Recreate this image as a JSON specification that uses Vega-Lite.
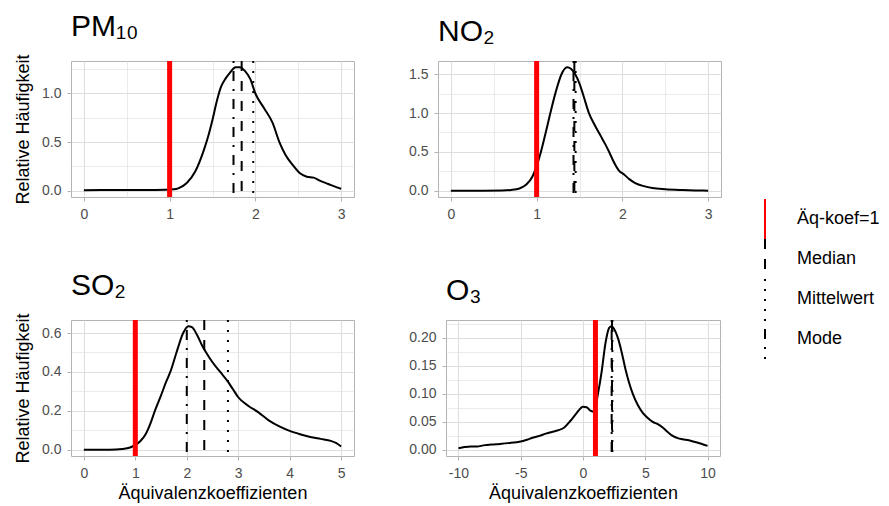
{
  "$schema": "https://vega.github.io/schema/vega-lite/v6.json",
  "background": "white",
  "padding": {"left": 14, "top": 11, "right": 5, "bottom": 5},
  "config": {
    "font": "Liberation Sans",
    "view": {"stroke": "#b3b3b3", "strokeWidth": 1},
    "axis": {"domain": false, "tickColor": "#b3b3b3", "tickSize": 4, "tickWidth": 1, "labelColor": "#4d4d4d", "labelFontSize": 14, "labelPadding": 6, "gridColor": "#dedede", "titleFontSize": 18, "titleFontWeight": "normal", "titleColor": "black", "titlePadding": 9, "labelFont": "Liberation Sans", "titleFont": "Liberation Sans"},
    "title": {"fontSize": 30, "fontWeight": "normal", "anchor": "start", "frame": "group", "baseline": "alphabetic", "offset": 12, "font": "Liberation Sans", "color": "black"},
    "legend": {"orient": "none", "legendX": 673, "legendY": 138, "padding": 0, "symbolType": "M0,-1L0,1", "symbolSize": 1600, "symbolStrokeWidth": 2, "labelFontSize": 18, "labelColor": "black", "labelOffset": 11, "rowPadding": 0, "clipHeight": 40, "labelFont": "Liberation Sans"}
  },
  "datasets": {
    "density": [
      {"p": "PM10", "x": 0, "y": 0.005}, {"p": "PM10", "x": 0.2, "y": 0.007}, {"p": "PM10", "x": 0.4, "y": 0.008}, {"p": "PM10", "x": 0.6, "y": 0.007}, {"p": "PM10", "x": 0.8, "y": 0.008}, {"p": "PM10", "x": 0.95, "y": 0.01}, {"p": "PM10", "x": 1.05, "y": 0.015}, {"p": "PM10", "x": 1.1, "y": 0.025}, {"p": "PM10", "x": 1.2, "y": 0.08}, {"p": "PM10", "x": 1.3, "y": 0.2}, {"p": "PM10", "x": 1.4, "y": 0.42}, {"p": "PM10", "x": 1.45, "y": 0.56}, {"p": "PM10", "x": 1.5, "y": 0.73}, {"p": "PM10", "x": 1.55, "y": 0.92}, {"p": "PM10", "x": 1.6, "y": 1.07}, {"p": "PM10", "x": 1.65, "y": 1.15}, {"p": "PM10", "x": 1.7, "y": 1.21}, {"p": "PM10", "x": 1.77, "y": 1.27}, {"p": "PM10", "x": 1.82, "y": 1.27}, {"p": "PM10", "x": 1.88, "y": 1.23}, {"p": "PM10", "x": 1.94, "y": 1.15}, {"p": "PM10", "x": 2.0, "y": 1.0}, {"p": "PM10", "x": 2.1, "y": 0.85}, {"p": "PM10", "x": 2.2, "y": 0.7}, {"p": "PM10", "x": 2.28, "y": 0.5}, {"p": "PM10", "x": 2.35, "y": 0.37}, {"p": "PM10", "x": 2.44, "y": 0.26}, {"p": "PM10", "x": 2.52, "y": 0.18}, {"p": "PM10", "x": 2.6, "y": 0.145}, {"p": "PM10", "x": 2.68, "y": 0.135}, {"p": "PM10", "x": 2.75, "y": 0.105}, {"p": "PM10", "x": 2.85, "y": 0.07}, {"p": "PM10", "x": 2.95, "y": 0.035}, {"p": "PM10", "x": 3.0, "y": 0.02},
      {"p": "NO2", "x": 0, "y": 0}, {"p": "NO2", "x": 0.3, "y": 0}, {"p": "NO2", "x": 0.6, "y": 0.003}, {"p": "NO2", "x": 0.7, "y": 0.01}, {"p": "NO2", "x": 0.8, "y": 0.03}, {"p": "NO2", "x": 0.88, "y": 0.08}, {"p": "NO2", "x": 0.95, "y": 0.18}, {"p": "NO2", "x": 1.0, "y": 0.32}, {"p": "NO2", "x": 1.05, "y": 0.5}, {"p": "NO2", "x": 1.1, "y": 0.72}, {"p": "NO2", "x": 1.16, "y": 1.0}, {"p": "NO2", "x": 1.22, "y": 1.26}, {"p": "NO2", "x": 1.29, "y": 1.5}, {"p": "NO2", "x": 1.355, "y": 1.59}, {"p": "NO2", "x": 1.4, "y": 1.57}, {"p": "NO2", "x": 1.45, "y": 1.5}, {"p": "NO2", "x": 1.5, "y": 1.38}, {"p": "NO2", "x": 1.55, "y": 1.21}, {"p": "NO2", "x": 1.61, "y": 1.0}, {"p": "NO2", "x": 1.68, "y": 0.84}, {"p": "NO2", "x": 1.75, "y": 0.7}, {"p": "NO2", "x": 1.8, "y": 0.6}, {"p": "NO2", "x": 1.85, "y": 0.49}, {"p": "NO2", "x": 1.9, "y": 0.37}, {"p": "NO2", "x": 1.96, "y": 0.26}, {"p": "NO2", "x": 2.02, "y": 0.21}, {"p": "NO2", "x": 2.08, "y": 0.15}, {"p": "NO2", "x": 2.15, "y": 0.1}, {"p": "NO2", "x": 2.25, "y": 0.06}, {"p": "NO2", "x": 2.35, "y": 0.035}, {"p": "NO2", "x": 2.5, "y": 0.02}, {"p": "NO2", "x": 2.7, "y": 0.01}, {"p": "NO2", "x": 2.85, "y": 0.005}, {"p": "NO2", "x": 3.0, "y": 0.002},
      {"p": "SO2", "x": 0, "y": 0}, {"p": "SO2", "x": 0.5, "y": 0}, {"p": "SO2", "x": 0.75, "y": 0.004}, {"p": "SO2", "x": 0.9, "y": 0.012}, {"p": "SO2", "x": 1.0, "y": 0.025}, {"p": "SO2", "x": 1.1, "y": 0.045}, {"p": "SO2", "x": 1.2, "y": 0.08}, {"p": "SO2", "x": 1.3, "y": 0.14}, {"p": "SO2", "x": 1.38, "y": 0.2}, {"p": "SO2", "x": 1.5, "y": 0.28}, {"p": "SO2", "x": 1.6, "y": 0.35}, {"p": "SO2", "x": 1.68, "y": 0.4}, {"p": "SO2", "x": 1.8, "y": 0.5}, {"p": "SO2", "x": 1.93, "y": 0.6}, {"p": "SO2", "x": 2.03, "y": 0.635}, {"p": "SO2", "x": 2.1, "y": 0.63}, {"p": "SO2", "x": 2.2, "y": 0.59}, {"p": "SO2", "x": 2.3, "y": 0.535}, {"p": "SO2", "x": 2.4, "y": 0.49}, {"p": "SO2", "x": 2.5, "y": 0.45}, {"p": "SO2", "x": 2.65, "y": 0.4}, {"p": "SO2", "x": 2.8, "y": 0.35}, {"p": "SO2", "x": 2.9, "y": 0.31}, {"p": "SO2", "x": 3.0, "y": 0.27}, {"p": "SO2", "x": 3.2, "y": 0.225}, {"p": "SO2", "x": 3.38, "y": 0.195}, {"p": "SO2", "x": 3.6, "y": 0.15}, {"p": "SO2", "x": 3.8, "y": 0.12}, {"p": "SO2", "x": 4.0, "y": 0.097}, {"p": "SO2", "x": 4.2, "y": 0.08}, {"p": "SO2", "x": 4.4, "y": 0.066}, {"p": "SO2", "x": 4.6, "y": 0.056}, {"p": "SO2", "x": 4.8, "y": 0.046}, {"p": "SO2", "x": 4.9, "y": 0.035}, {"p": "SO2", "x": 5.0, "y": 0.017},
      {"p": "O3", "x": -10, "y": 0.003}, {"p": "O3", "x": -9.5, "y": 0.005}, {"p": "O3", "x": -9, "y": 0.006}, {"p": "O3", "x": -8.5, "y": 0.006}, {"p": "O3", "x": -8, "y": 0.008}, {"p": "O3", "x": -7, "y": 0.01}, {"p": "O3", "x": -6, "y": 0.012}, {"p": "O3", "x": -5, "y": 0.015}, {"p": "O3", "x": -4.5, "y": 0.018}, {"p": "O3", "x": -4, "y": 0.022}, {"p": "O3", "x": -3.5, "y": 0.025}, {"p": "O3", "x": -3, "y": 0.029}, {"p": "O3", "x": -2.5, "y": 0.032}, {"p": "O3", "x": -2, "y": 0.035}, {"p": "O3", "x": -1.5, "y": 0.04}, {"p": "O3", "x": -1, "y": 0.052}, {"p": "O3", "x": -0.5, "y": 0.066}, {"p": "O3", "x": 0, "y": 0.077}, {"p": "O3", "x": 0.3, "y": 0.076}, {"p": "O3", "x": 0.6, "y": 0.07}, {"p": "O3", "x": 0.9, "y": 0.068}, {"p": "O3", "x": 1.2, "y": 0.1}, {"p": "O3", "x": 1.5, "y": 0.14}, {"p": "O3", "x": 1.8, "y": 0.19}, {"p": "O3", "x": 2.1, "y": 0.218}, {"p": "O3", "x": 2.3, "y": 0.221}, {"p": "O3", "x": 2.5, "y": 0.216}, {"p": "O3", "x": 2.8, "y": 0.2}, {"p": "O3", "x": 3.1, "y": 0.175}, {"p": "O3", "x": 3.4, "y": 0.145}, {"p": "O3", "x": 3.7, "y": 0.12}, {"p": "O3", "x": 4.0, "y": 0.1}, {"p": "O3", "x": 4.4, "y": 0.08}, {"p": "O3", "x": 4.8, "y": 0.066}, {"p": "O3", "x": 5.2, "y": 0.057}, {"p": "O3", "x": 5.6, "y": 0.05}, {"p": "O3", "x": 6.0, "y": 0.046}, {"p": "O3", "x": 6.4, "y": 0.04}, {"p": "O3", "x": 6.8, "y": 0.032}, {"p": "O3", "x": 7.2, "y": 0.025}, {"p": "O3", "x": 7.6, "y": 0.021}, {"p": "O3", "x": 8.0, "y": 0.019}, {"p": "O3", "x": 8.5, "y": 0.017}, {"p": "O3", "x": 9.0, "y": 0.014}, {"p": "O3", "x": 9.5, "y": 0.011}, {"p": "O3", "x": 10, "y": 0.007}
    ],
    "lines": [
      {"p": "PM10", "type": "Äq-koef=1", "x": 1}, {"p": "PM10", "type": "Median", "x": 1.84}, {"p": "PM10", "type": "Mittelwert", "x": 1.975}, {"p": "PM10", "type": "Mode", "x": 1.745},
      {"p": "NO2", "type": "Äq-koef=1", "x": 1}, {"p": "NO2", "type": "Median", "x": 1.44}, {"p": "NO2", "type": "Mittelwert", "x": 1.455}, {"p": "NO2", "type": "Mode", "x": 1.43},
      {"p": "SO2", "type": "Äq-koef=1", "x": 1}, {"p": "SO2", "type": "Median", "x": 2.34}, {"p": "SO2", "type": "Mittelwert", "x": 2.8}, {"p": "SO2", "type": "Mode", "x": 2.0},
      {"p": "O3", "type": "Äq-koef=1", "x": 1}, {"p": "O3", "type": "Median", "x": 2.33}, {"p": "O3", "type": "Mittelwert", "x": 2.36}, {"p": "O3", "type": "Mode", "x": 2.3}
    ]
  },
  "spacing": 48,
  "vconcat": [
    {
      "spacing": 53,
      "hconcat": [
        {
          "title": {"text": "PM₁₀"},
          "width": 283, "height": 136,
          "layer": [
            {"data": {"name": "density"}, "transform": [{"filter": "datum.p === 'PM10'"}],
             "mark": {"type": "line", "color": "black", "strokeWidth": 2, "interpolate": "monotone"},
             "encoding": {
               "x": {"field": "x", "type": "quantitative", "scale": {"domain": [-0.15, 3.15], "nice": false, "zero": false},
                     "axis": {"title": null, "values": [0, 0.5, 1, 1.5, 2, 2.5, 3], "labelExpr": "datum.value % 1 === 0 ? '' + datum.value : ''",
                              "gridWidth": {"condition": {"test": "datum.value % 1 !== 0", "value": 0.6}, "value": 1.1},
                              "tickOpacity": {"condition": {"test": "datum.value % 1 !== 0", "value": 0}, "value": 1}}},
               "y": {"field": "y", "type": "quantitative", "scale": {"domain": [-0.064, 1.334], "nice": false, "zero": false},
                     "axis": {"title": "Relative Häufigkeit", "values": [0, 0.25, 0.5, 0.75, 1, 1.25], "labelExpr": "round(datum.value * 4) % 2 === 0 ? format(datum.value, '.1f') : ''",
                              "gridWidth": {"condition": {"test": "round(datum.value * 4) % 2 !== 0", "value": 0.6}, "value": 1.1},
                              "tickOpacity": {"condition": {"test": "round(datum.value * 4) % 2 !== 0", "value": 0}, "value": 1}}}
             }},
            {"data": {"name": "lines"}, "transform": [{"filter": "datum.p === 'PM10'"}],
             "mark": {"type": "rule", "strokeWidth": 2},
             "encoding": {
               "x": {"field": "x", "type": "quantitative"},
               "color": {"field": "type", "type": "nominal", "scale": {"domain": ["Äq-koef=1", "Median", "Mittelwert", "Mode"], "range": ["#ff0000", "black", "black", "black"]}, "legend": {"title": null}},
               "strokeDash": {"field": "type", "type": "nominal", "scale": {"domain": ["Äq-koef=1", "Median", "Mittelwert", "Mode"], "range": [[1, 0], [10, 10], [2, 8], [2, 8, 10, 8]]}, "legend": {"title": null}}
             }},
            {"data": {"name": "lines"}, "transform": [{"filter": "datum.p === 'PM10' && datum.type === 'Äq-koef=1'"}],
             "mark": {"type": "rule", "strokeWidth": 5, "color": "#ff0000"},
             "encoding": {"x": {"field": "x", "type": "quantitative"}}}
          ]
        },
        {
          "title": {"text": "NO₂"},
          "width": 283, "height": 136,
          "layer": [
            {"data": {"name": "density"}, "transform": [{"filter": "datum.p === 'NO2'"}],
             "mark": {"type": "line", "color": "black", "strokeWidth": 2, "interpolate": "monotone"},
             "encoding": {
               "x": {"field": "x", "type": "quantitative", "scale": {"domain": [-0.15, 3.15], "nice": false, "zero": false},
                     "axis": {"title": null, "values": [0, 0.5, 1, 1.5, 2, 2.5, 3], "labelExpr": "datum.value % 1 === 0 ? '' + datum.value : ''",
                              "gridWidth": {"condition": {"test": "datum.value % 1 !== 0", "value": 0.6}, "value": 1.1},
                              "tickOpacity": {"condition": {"test": "datum.value % 1 !== 0", "value": 0}, "value": 1}}},
               "y": {"field": "y", "type": "quantitative", "scale": {"domain": [-0.08, 1.67], "nice": false, "zero": false},
                     "axis": {"title": null, "values": [0, 0.25, 0.5, 0.75, 1, 1.25, 1.5], "labelExpr": "round(datum.value * 4) % 2 === 0 ? format(datum.value, '.1f') : ''",
                              "gridWidth": {"condition": {"test": "round(datum.value * 4) % 2 !== 0", "value": 0.6}, "value": 1.1},
                              "tickOpacity": {"condition": {"test": "round(datum.value * 4) % 2 !== 0", "value": 0}, "value": 1}}}
             }},
            {"data": {"name": "lines"}, "transform": [{"filter": "datum.p === 'NO2'"}],
             "mark": {"type": "rule", "strokeWidth": 2},
             "encoding": {
               "x": {"field": "x", "type": "quantitative"},
               "color": {"field": "type", "type": "nominal", "scale": {"domain": ["Äq-koef=1", "Median", "Mittelwert", "Mode"], "range": ["#ff0000", "black", "black", "black"]}, "legend": {"title": null}},
               "strokeDash": {"field": "type", "type": "nominal", "scale": {"domain": ["Äq-koef=1", "Median", "Mittelwert", "Mode"], "range": [[1, 0], [10, 10], [2, 8], [2, 8, 10, 8]]}, "legend": {"title": null}}
             }},
            {"data": {"name": "lines"}, "transform": [{"filter": "datum.p === 'NO2' && datum.type === 'Äq-koef=1'"}],
             "mark": {"type": "rule", "strokeWidth": 5, "color": "#ff0000"},
             "encoding": {"x": {"field": "x", "type": "quantitative"}}}
          ]
        }
      ]
    },
    {
      "spacing": 53,
      "hconcat": [
        {
          "title": {"text": "SO₂"},
          "width": 283, "height": 136,
          "layer": [
            {"data": {"name": "density"}, "transform": [{"filter": "datum.p === 'SO2'"}],
             "mark": {"type": "line", "color": "black", "strokeWidth": 2, "interpolate": "monotone"},
             "encoding": {
               "x": {"field": "x", "type": "quantitative", "scale": {"domain": [-0.25, 5.25], "nice": false, "zero": false},
                     "axis": {"title": "Äquivalenzkoeffizienten", "titlePadding": 4, "values": [0, 0.5, 1, 1.5, 2, 2.5, 3, 3.5, 4, 4.5, 5], "labelExpr": "datum.value % 1 === 0 ? '' + datum.value : ''",
                              "gridWidth": {"condition": {"test": "datum.value % 1 !== 0", "value": 0.6}, "value": 1.1},
                              "tickOpacity": {"condition": {"test": "datum.value % 1 !== 0", "value": 0}, "value": 1}}},
               "y": {"field": "y", "type": "quantitative", "scale": {"domain": [-0.032, 0.667], "nice": false, "zero": false},
                     "axis": {"title": "Relative Häufigkeit", "values": [0, 0.1, 0.2, 0.3, 0.4, 0.5, 0.6], "labelExpr": "round(datum.value * 10) % 2 === 0 ? format(datum.value, '.1f') : ''",
                              "gridWidth": {"condition": {"test": "round(datum.value * 10) % 2 !== 0", "value": 0.6}, "value": 1.1},
                              "tickOpacity": {"condition": {"test": "round(datum.value * 10) % 2 !== 0", "value": 0}, "value": 1}}}
             }},
            {"data": {"name": "lines"}, "transform": [{"filter": "datum.p === 'SO2'"}],
             "mark": {"type": "rule", "strokeWidth": 2},
             "encoding": {
               "x": {"field": "x", "type": "quantitative"},
               "color": {"field": "type", "type": "nominal", "scale": {"domain": ["Äq-koef=1", "Median", "Mittelwert", "Mode"], "range": ["#ff0000", "black", "black", "black"]}, "legend": {"title": null}},
               "strokeDash": {"field": "type", "type": "nominal", "scale": {"domain": ["Äq-koef=1", "Median", "Mittelwert", "Mode"], "range": [[1, 0], [10, 10], [2, 8], [2, 8, 10, 8]]}, "legend": {"title": null}}
             }},
            {"data": {"name": "lines"}, "transform": [{"filter": "datum.p === 'SO2' && datum.type === 'Äq-koef=1'"}],
             "mark": {"type": "rule", "strokeWidth": 5, "color": "#ff0000"},
             "encoding": {"x": {"field": "x", "type": "quantitative"}}}
          ]
        },
        {
          "title": {"text": "O₃"},
          "width": 274, "height": 136,
          "layer": [
            {"data": {"name": "density"}, "transform": [{"filter": "datum.p === 'O3'"}],
             "mark": {"type": "line", "color": "black", "strokeWidth": 2, "interpolate": "monotone"},
             "encoding": {
               "x": {"field": "x", "type": "quantitative", "scale": {"domain": [-11, 11], "nice": false, "zero": false},
                     "axis": {"title": "Äquivalenzkoeffizienten", "titlePadding": 4, "values": [-10, -7.5, -5, -2.5, 0, 2.5, 5, 7.5, 10], "labelExpr": "datum.value % 5 === 0 ? '' + datum.value : ''",
                              "gridWidth": {"condition": {"test": "datum.value % 5 !== 0", "value": 0.6}, "value": 1.1},
                              "tickOpacity": {"condition": {"test": "datum.value % 5 !== 0", "value": 0}, "value": 1}}},
               "y": {"field": "y", "type": "quantitative", "scale": {"domain": [-0.011, 0.232], "nice": false, "zero": false},
                     "axis": {"title": null, "values": [0, 0.025, 0.05, 0.075, 0.1, 0.125, 0.15, 0.175, 0.2, 0.225], "labelExpr": "round(datum.value * 40) % 2 === 0 ? format(datum.value, '.2f') : ''",
                              "gridWidth": {"condition": {"test": "round(datum.value * 40) % 2 !== 0", "value": 0.6}, "value": 1.1},
                              "tickOpacity": {"condition": {"test": "round(datum.value * 40) % 2 !== 0", "value": 0}, "value": 1}}}
             }},
            {"data": {"name": "lines"}, "transform": [{"filter": "datum.p === 'O3'"}],
             "mark": {"type": "rule", "strokeWidth": 2},
             "encoding": {
               "x": {"field": "x", "type": "quantitative"},
               "color": {"field": "type", "type": "nominal", "scale": {"domain": ["Äq-koef=1", "Median", "Mittelwert", "Mode"], "range": ["#ff0000", "black", "black", "black"]}, "legend": {"title": null}},
               "strokeDash": {"field": "type", "type": "nominal", "scale": {"domain": ["Äq-koef=1", "Median", "Mittelwert", "Mode"], "range": [[1, 0], [10, 10], [2, 8], [2, 8, 10, 8]]}, "legend": {"title": null}}
             }},
            {"data": {"name": "lines"}, "transform": [{"filter": "datum.p === 'O3' && datum.type === 'Äq-koef=1'"}],
             "mark": {"type": "rule", "strokeWidth": 5, "color": "#ff0000"},
             "encoding": {"x": {"field": "x", "type": "quantitative"}}}
          ]
        }
      ]
    }
  ]
}
